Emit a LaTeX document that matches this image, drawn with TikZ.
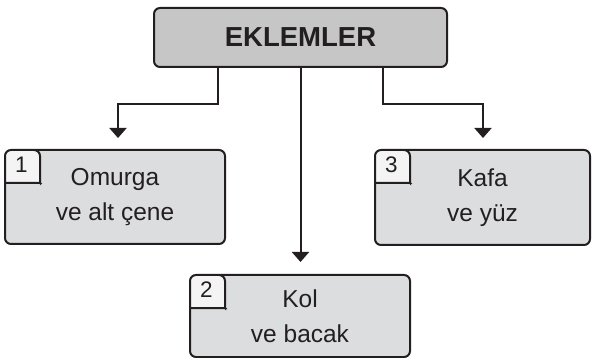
\documentclass[tikz,border=0pt]{standalone}
\usepackage{fontspec}
\setmainfont{Liberation Sans}
\usetikzlibrary{arrows.meta}
\definecolor{ink}{HTML}{231F20}
\definecolor{headgray}{HTML}{C6C6C6}
\definecolor{boxgray}{HTML}{DCDDDE}
\definecolor{tabgray}{HTML}{F4F4F4}
\begin{document}
\begin{tikzpicture}[x=1pt,y=1pt,
  every node/.style={inner sep=0pt},
  head/.style={draw=ink,line width=2pt,fill=headgray,rounded corners=6pt,
    minimum width=293pt,minimum height=59pt,font=\fontsize{27.5}{30}\selectfont\bfseries},
  part/.style={draw=ink,line width=2pt,fill=boxgray,rounded corners=6pt,align=center,
    font=\fontsize{24.5}{35}\selectfont,
    path picture={\filldraw[draw=ink,line width=2pt,fill=tabgray]
      (path picture bounding box.north west) -- ++(35,0) -- ++(0,-27)
      arc[start angle=0,end angle=-90,radius=6] -- ++(-29,0);}},
  num/.style={font=\fontsize{22.5}{24}\selectfont,text=ink},
  arrow/.style={draw=ink,line width=2pt,-{Triangle[width=17pt,length=10pt]}}]
\useasboundingbox (0,0) rectangle (592,-358);
\node[head] (eklemler) at (300.5,-37.5) {\textcolor{ink}{EKLEMLER}};
\node[part,minimum width=220pt,minimum height=94pt] (b1) at (115,-197) {\textcolor{ink}{Omurga}\\\textcolor{ink}{ve alt çene}};
\node[part,minimum width=220pt,minimum height=82pt] (b2) at (300,-316) {\textcolor{ink}{Kol}\\\textcolor{ink}{ve bacak}};
\node[part,minimum width=215pt,minimum height=95pt] (b3) at (482.5,-197.5) {\textcolor{ink}{Kafa}\\\textcolor{ink}{ve yüz}};
\node[num] (n1) at ([shift={(17.5,-16)}]b1.north west) {1};
\node[num] (n2) at ([shift={(17.5,-15.5)}]b2.north west) {2};
\node[num] (n3) at ([shift={(17.5,-16)}]b3.north west) {3};
\coordinate (t1) at (118,-138);
\coordinate (t2) at (300.5,-262);
\coordinate (t3) at (483,-138);
\draw[arrow] ([xshift=-82.5]eklemler.south) -- ++(0,-36) -| (t1);
\draw[arrow] (eklemler.south) -- (t2);
\draw[arrow] ([xshift=82.5]eklemler.south) -- ++(0,-36) -| (t3);
\end{tikzpicture}
\end{document}
